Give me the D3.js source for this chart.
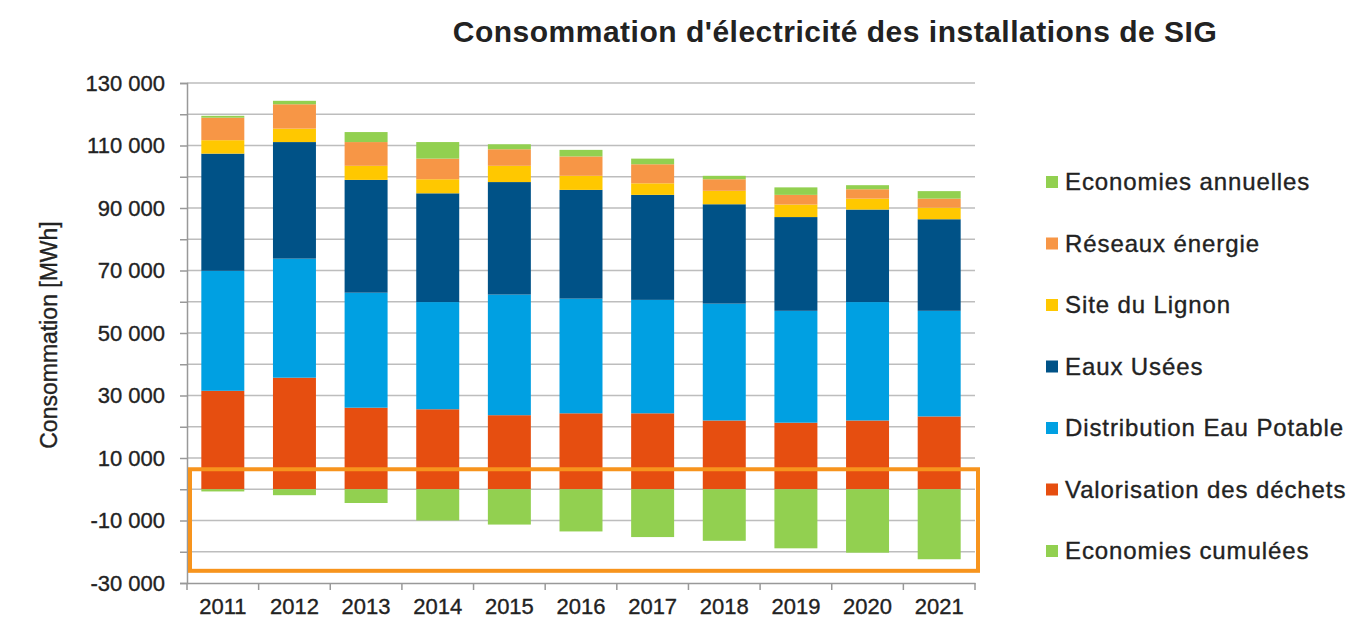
<!DOCTYPE html>
<html>
<head>
<meta charset="utf-8">
<script src="https://cdn.jsdelivr.net/npm/d3@7"></script>
<style>
  body { margin: 0; background: #fff; }
  text { font-family: "Liberation Sans", Arial, sans-serif; fill: #222; }
  .heavy { stroke: #222; stroke-width: 0.35px; }
</style>
</head>
<body>
<svg width="1350" height="626"></svg>
<script>
// data (MWh)
const years = ['2011', '2012', '2013', '2014', '2015', '2016', '2017', '2018', '2019', '2020', '2021'];
const valorisation = [31500, 35700, 26100, 25600, 23700, 24300, 24300, 22000, 21300, 22000, 23300];
const distribution = [38400, 38100, 36800, 34300, 38600, 36700, 36300, 37400, 35800, 37900, 33800];
const eauxUsees = [37500, 37300, 36100, 34800, 36000, 34800, 33600, 31800, 30000, 29600, 29300];
const lignon = [4300, 4300, 4500, 4500, 5200, 4500, 3700, 4300, 4000, 3500, 3700];
const reseaux = [7200, 7800, 7600, 6600, 5300, 6200, 6100, 3700, 3100, 3000, 2900];
const ecoAnnuelles = [600, 1100, 3200, 5300, 1600, 2100, 1800, 1100, 2400, 1300, 2400];
const ecoCumulees = [-700, -1900, -4400, -10000, -11300, -13500, -15300, -16500, -18900, -20300, -22400];
const yLabels = [-30000, -10000, 10000, 30000, 50000, 70000, 90000, 110000, 130000];
const highlight = [-26100, 6400];

const keys = ['valorisation', 'distribution', 'eauxUsees', 'lignon', 'reseaux', 'ecoAnnuelles'];
const colors = {
  valorisation: '#e64e10',
  distribution: '#00a0e2',
  eauxUsees: '#005287',
  lignon: '#ffc800',
  reseaux: '#f79646',
  ecoAnnuelles: '#92d050',
  ecoCumulees: '#92d050'
};
const legendItems = [
  ['Economies annuelles', 'ecoAnnuelles'],
  ['Réseaux énergie', 'reseaux'],
  ['Site du Lignon', 'lignon'],
  ['Eaux Usées', 'eauxUsees'],
  ['Distribution Eau Potable', 'distribution'],
  ['Valorisation des déchets', 'valorisation'],
  ['Economies cumulées', 'ecoCumulees']
];

const rows = years.map((yr, i) => ({
  year: yr,
  valorisation: valorisation[i],
  distribution: distribution[i],
  eauxUsees: eauxUsees[i],
  lignon: lignon[i],
  reseaux: reseaux[i],
  ecoAnnuelles: ecoAnnuelles[i],
  ecoCumulees: ecoCumulees[i]
}));

const svg = d3.select('svg');
const plotLeft = 187, plotRight = 975, plotTop = 83, plotBottom = 583;

const x = d3.scaleBand().domain(years).range([plotLeft, plotRight]).paddingInner(0.4).paddingOuter(0.2);
const y = d3.scaleLinear().domain([-30000, 130000]).range([plotBottom, plotTop]);
const fmt = d3.formatLocale({decimal: ',', thousands: ' ', grouping: [3], currency: ['', ''], minus: '-'}).format(',');

// grid lines every 10 000
const grid = d3.range(-20000, 130001, 10000);
svg.append('g').selectAll('line').data(grid).join('line')
  .attr('x1', plotLeft).attr('x2', plotRight)
  .attr('y1', d => y(d)).attr('y2', d => y(d))
  .attr('stroke', '#bdbdbd').attr('stroke-width', 1.5);

// stacked positive bars
const series = d3.stack().keys(keys)(rows);
svg.append('g').selectAll('g').data(series).join('g')
  .attr('fill', d => colors[d.key])
  .selectAll('rect').data(d => d).join('rect')
  .attr('x', d => x(d.data.year))
  .attr('width', x.bandwidth())
  .attr('y', d => y(d[1]))
  .attr('height', d => y(d[0]) - y(d[1]));

// cumulative savings below zero
svg.append('g').selectAll('rect').data(rows).join('rect')
  .attr('fill', colors.ecoCumulees)
  .attr('x', d => x(d.year))
  .attr('width', x.bandwidth())
  .attr('y', y(0))
  .attr('height', d => y(d.ecoCumulees) - y(0));

// y axis
const yAxis = svg.append('g').attr('transform', `translate(${plotLeft},0)`)
  .call(d3.axisLeft(y).tickValues(d3.range(-30000, 130001, 10000)).tickSize(7).tickFormat(''));
yAxis.select('.domain').attr('stroke', '#999').attr('stroke-width', 1.5);
yAxis.selectAll('.tick line').attr('stroke', '#999').attr('stroke-width', 1.5);

svg.append('g').selectAll('text').data(yLabels).join('text')
  .attr('class', 'heavy')
  .attr('x', plotLeft - 22).attr('y', d => y(d)).attr('dy', '0.35em')
  .attr('text-anchor', 'end').style('font-size', '22px')
  .text(d => fmt(d));

// x axis at the bottom
const xAxis = svg.append('g').attr('transform', `translate(0,${plotBottom})`)
  .call(d3.axisBottom(x).tickSize(0).tickPadding(15));
xAxis.select('.domain').attr('stroke', '#999').attr('stroke-width', 1.5);
xAxis.selectAll('text').attr('class', 'heavy').style('font-size', '22px')
  .style('font-family', '"Liberation Sans", Arial, sans-serif').attr('fill', '#222');
const step = x.step();
svg.append('g').selectAll('line').data(years.concat(['end'])).join('line')
  .attr('x1', (d, i) => plotLeft + i * step).attr('x2', (d, i) => plotLeft + i * step)
  .attr('y1', plotBottom).attr('y2', plotBottom + 7)
  .attr('stroke', '#999').attr('stroke-width', 1.5);

// highlight box around the savings
svg.append('rect')
  .attr('x', plotLeft + 3).attr('width', plotRight - plotLeft)
  .attr('y', y(highlight[1])).attr('height', y(highlight[0]) - y(highlight[1]))
  .attr('fill', 'none').attr('stroke', '#f7941d').attr('stroke-width', 4);

// titles
svg.append('text').attr('x', 835).attr('y', 42).attr('text-anchor', 'middle')
  .style('font-size', '30px').style('font-weight', 'bold').style('letter-spacing', '0.5px')
  .attr('fill', '#111')
  .text("Consommation d'électricité des installations de SIG");

svg.append('text').attr('class', 'heavy').attr('transform', 'translate(57,335) rotate(-90)')
  .attr('text-anchor', 'middle').style('font-size', '23px')
  .text('Consommation [MWh]');

// legend
const lg = svg.append('g').selectAll('g').data(legendItems).join('g')
  .attr('transform', (d, i) => `translate(1046,${182 + i * 61.5})`);
lg.append('rect').attr('x', 0).attr('y', -6).attr('width', 12).attr('height', 12)
  .attr('fill', d => colors[d[1]]);
lg.append('text').attr('class', 'heavy').attr('x', 19).attr('dy', '0.35em')
  .style('font-size', '24px').style('letter-spacing', '0.9px')
  .text(d => d[0]);
</script>
</body>
</html>
